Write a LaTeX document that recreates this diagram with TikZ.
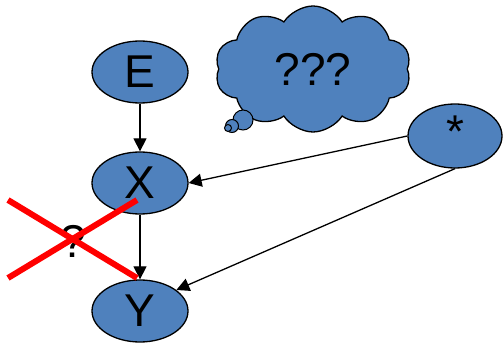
\documentclass[tikz,border=0pt]{standalone}
\usepackage{fontspec}
\setmainfont{Liberation Sans}
\usetikzlibrary{shapes.geometric,shapes.symbols,arrows.meta}
\definecolor{nodeblue}{RGB}{79,129,189}
\definecolor{crossred}{RGB}{255,0,0}
\begin{document}
\begin{tikzpicture}[x=1pt,y=-1pt,
  bignode/.style={ellipse,draw=black,line width=1.3pt,fill=nodeblue,
    minimum width=96pt,minimum height=62pt,inner sep=0pt,
    font=\fontsize{46}{46}\selectfont},
  link/.style={draw=black,line width=1.3pt,-{Triangle[length=13pt,width=13pt]}},
  bubble/.style={circle,draw=black,line width=1pt,fill=nodeblue,inner sep=0pt},
  cross/.style={draw=crossred,line width=6pt}]
\useasboundingbox (0,0) rectangle (503,344);
% thought cloud
\node[cloud,draw=black,line width=1.3pt,fill=nodeblue,cloud puffs=10,
  cloud puff arc=115,aspect=1.5,minimum width=196pt,minimum height=126pt,
  inner sep=0pt,font=\fontsize{46}{46}\selectfont] (cloud) at (313,69) {???};
\node[bubble,minimum size=20pt] (b1) at (243,120) {};
\node[bubble,minimum size=13pt] (b2) at (232,126) {};
\node[bubble,minimum size=7pt] (b3) at (228,128) {};
% variables
\node[bignode] (E) at (140,72) {E};
\node[bignode] (X) at (140,183) {X};
\node[bignode] (Y) at (140,311) {Y};
\node[bignode,minimum width=94pt,minimum height=64pt] (S) at (455,136) {\raisebox{8pt}{*}};
% edges
\draw[link] (E) -- (X);
\draw[link] (X) -- (Y);
\draw[link] (S.west) -- (X.east);
\draw[link] (S.south) -- (Y.30);
% struck-out question
\node[font=\fontsize{46}{46}\selectfont] (q) at (73,241) {?};
\coordinate (c1) at (8,200);
\coordinate (c2) at (137,278);
\coordinate (c3) at (8,278);
\coordinate (c4) at (137,200);
\draw[cross] (c1) -- (c2);
\draw[cross] (c3) -- (c4);
\end{tikzpicture}
\end{document}
